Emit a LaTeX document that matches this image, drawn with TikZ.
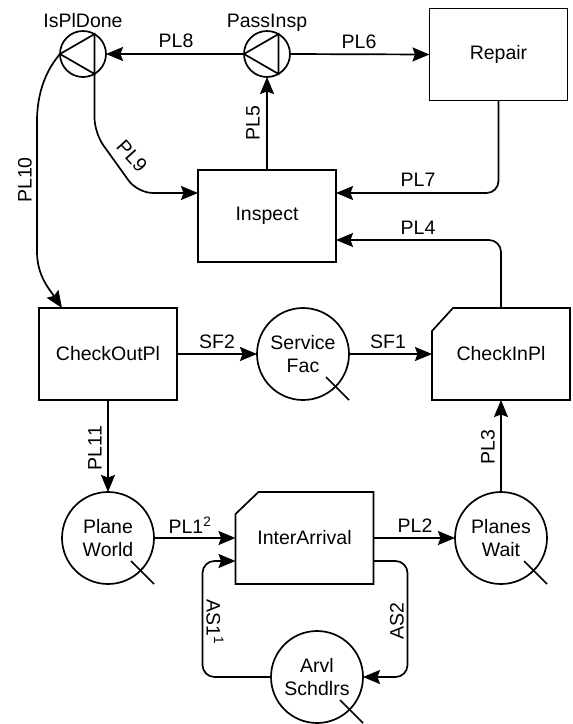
\documentclass[tikz,border=0pt]{standalone}
\usepackage{fontspec}
\setmainfont{Liberation Sans}
\usetikzlibrary{arrows.meta}

\begin{document}
\begin{tikzpicture}[x=1pt,y=-1pt,
  every node/.style={font=\fontsize{19.5}{23.5}\selectfont},
  flow/.style={line width=1.7pt, rounded corners=12pt,
    -{Stealth[length=17pt,width=14pt,inset=2.5pt]}},
  proc/.style={draw, line width=1.7pt, minimum width=138pt, minimum height=92pt,
    inner sep=0pt, outer sep=0pt},
  ghost/.style={minimum width=138pt, minimum height=92pt, inner sep=0pt, outer sep=0pt},
  pool/.style={circle, draw, line width=1.7pt, minimum size=92pt, inner sep=0pt,
    outer sep=0pt, align=center},
  gate/.style={circle, draw, line width=1.7pt, minimum size=46pt, inner sep=0pt,
    outer sep=0pt},
  lbl/.style={inner sep=0pt},
  chamfer/.style={line width=1.7pt, line join=miter}
]
\useasboundingbox (0,0) rectangle (573,724);

% ---------- branch gates ----------
\node[gate] (isp) at (83,54) {};
\node[gate] (pin) at (267,54) {};
\draw[line width=1.7pt, line join=miter] (isp.west) -- (isp.60) -- (isp.-60) -- cycle;
\draw[line width=1.7pt, line join=miter] (pin.west) -- (pin.60) -- (pin.-60) -- cycle;
\node[lbl, anchor=base] (tisp) at (83,27) {IsPlDone};
\node[lbl, anchor=base] (tpin) at (267,27) {PassInsp};

% ---------- activities ----------
\node[proc] (rep) at (498.5,54.5) {Repair};
\node[proc] (ins) at (267,216) {Inspect};
\node[proc] (cop) at (108,354) {CheckOutPl};

\node[ghost] (cin) at (501,354) {CheckInPl};
\draw[chamfer] ([xshift=21pt]cin.north west) -- (cin.north east) -- (cin.south east)
  -- (cin.south west) -- ([yshift=-23pt]cin.north west) -- cycle;

\node[ghost] (ia) at (304.5,538) {InterArrival};
\draw[chamfer] ([xshift=23pt]ia.north west) -- (ia.north east) -- (ia.south east)
  -- (ia.south west) -- ([yshift=-22pt]ia.north west) -- cycle;

% ---------- queues ----------
\node[pool] (sf) at (303,354) {Service\\Fac};
\node[pool] (pw) at (108,538) {Plane\\World};
\node[pool] (pwt) at (501,538) {Planes\\Wait};
\node[pool] (arv) at (317,677) {Arvl\\Schdlrs};
\foreach \q in {sf,pw,pwt,arv}
  \draw[line width=1.7pt] ([shift={(23,23)}]\q.center) -- ([shift={(46,46)}]\q.center);

% ---------- connectors ----------
\draw[flow] (pin.west) -- (isp.east);
\draw[flow] (pin.east) -- (rep.west);
\draw[flow] (ins.north) -- (pin.south);
\draw[flow] (rep.south) |- ([yshift=23pt]ins.east);
\draw[flow] (cin.north) |- ([yshift=-24pt]ins.east);
\draw[flow, rounded corners=15pt] (isp.-60) -- ++(0,59) -- ++(43,60) -- ([yshift=23pt]ins.west);
\coordinate (cotop) at ([xshift=23pt]cop.north west);
\draw[flow, rounded corners=0pt] (isp.west) .. controls (48,68) and (38,88) .. (37,118)
  -- (37,252) .. controls (37,276) and (50,290) .. (cotop);
\draw[flow] (cop.east) -- (sf.west);
\draw[flow] (sf.east) -- (cin.west);
\draw[flow] (cop.south) -- (pw.north);
\draw[flow] (pwt.north) -- (cin.south);
\draw[flow] (pw.east) -- (ia.west);
\draw[flow] (ia.east) -- (pwt.west);
\draw[flow] (arv.west) -| ([xshift=-33pt,yshift=-23pt]ia.west) -- ([yshift=-23pt]ia.west);
\draw[flow] ([yshift=-23pt]ia.east) -- ++(34,0) |- (arv.east);

% ---------- connector labels ----------
\node[lbl] (l8) at (176,41) {PL8};
\node[lbl] (l6) at (359,42) {PL6};
\node[lbl, rotate=90] (l5) at (253,123) {PL5};
\node[lbl] (l7) at (418,180) {PL7};
\node[lbl] (l4) at (418,228) {PL4};
\node[lbl, rotate=-48] (l9) at (132,156) {PL9};
\node[lbl, rotate=90] (l10) at (25,180) {PL10};
\node[lbl] (ls2) at (217,342) {SF2};
\node[lbl] (ls1) at (388,342) {SF1};
\node[lbl, rotate=90] (l11) at (95,448) {PL11};
\node[lbl, rotate=90] (l3) at (488,447) {PL3};
\node[lbl] (l1) at (190,525) {PL1\textsuperscript{2}};
\node[lbl] (l2) at (415,526) {PL2};
\node[lbl, rotate=-90] (la1) at (215,622) {AS1\textsuperscript{1}};
\node[lbl, rotate=90] (la2) at (397,621) {AS2};
\end{tikzpicture}
\end{document}
